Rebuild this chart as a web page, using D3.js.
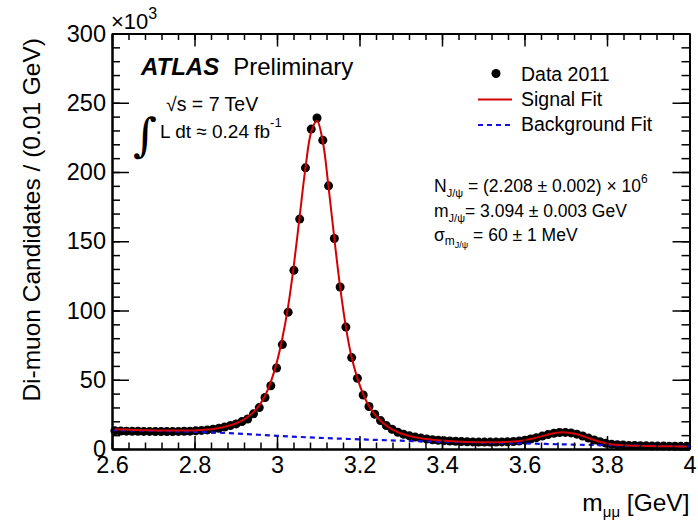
<!DOCTYPE html>
<html>
<head>
<meta charset="utf-8">
<script src="https://cdn.jsdelivr.net/npm/d3@7"></script>
<style>
  body { margin: 0; background: #fff; }
  text { font-family: "Liberation Sans", Arial, Helvetica, sans-serif; fill: #000; }
</style>
</head>
<body>
<div id="chart"></div>
<script>
// binning of the di-muon mass histogram (GeV)
const massLo = 2.6, massHi = 4.0, nBins = 100;
const binWidth = (massHi - massLo) / nBins;
const binCenters = d3.range(nBins).map(i => massLo + (i + 0.5) * binWidth);

// candidates per bin, in units of 10^3
const dataCounts = [
  13.1, 13.0, 12.9, 12.8, 12.8, 12.7, 12.7, 12.6, 12.6, 12.6,
  12.6, 12.7, 12.8, 12.9, 13.1, 13.4, 13.8, 14.3, 14.9, 15.8,
  16.9, 18.1, 19.8, 21.7, 25.4, 29.9, 37.2, 45.7, 58.5, 75.4,
  98.8, 129, 166, 203, 231, 239, 223, 190, 152, 117,
  88, 66, 51, 39, 30.7, 25.1, 20.5, 16.9, 14.3, 12.1,
  10.6, 9.5, 8.6, 7.9, 7.2, 6.7, 6.3, 6.0, 5.8, 5.6,
  5.4, 5.2, 5.1, 5.0, 5.0, 5.0, 5.0, 5.1, 5.2, 5.4,
  5.8, 6.4, 7.2, 8.2, 9.3, 10.4, 11.3, 11.9, 12.0, 11.6,
  10.7, 9.4, 7.9, 6.5, 5.2, 4.2, 3.5, 3.1, 2.8, 2.6,
  2.5, 2.4, 2.3, 2.2, 2.1, 2.1, 2.0, 2.0, 1.9, 1.9
];

// total fit (signal + background) evaluated at the bin centres
const signalFit = [
  14.3, 14.1, 14.0, 13.8, 13.7, 13.6, 13.5, 13.4, 13.3, 13.3,
  13.3, 13.3, 13.3, 13.4, 13.5, 13.7, 14.0, 14.5, 15.2, 16.1,
  17.2, 18.6, 20.5, 23.1, 26.6, 31.5, 38.5, 48.5, 62, 80,
  103, 133, 168, 203, 229, 237, 222, 189, 152, 117,
  88, 66, 51, 39.5, 31, 25, 20.4, 16.9, 14.2, 12.1,
  10.6, 9.4, 8.5, 7.8, 7.2, 6.7, 6.3, 6.0, 5.7, 5.5,
  5.3, 5.1, 5.0, 4.9, 4.9, 4.9, 4.9, 5.0, 5.1, 5.4,
  5.8, 6.4, 7.2, 8.2, 9.3, 10.4, 11.3, 11.9, 12.0, 11.6,
  10.7, 9.4, 7.9, 6.5, 5.2, 4.2, 3.5, 3.0, 2.7, 2.5,
  2.4, 2.3, 2.2, 2.1, 2.0, 2.0, 1.9, 1.9, 1.8, 1.8
];

// background fit
const bgMass = [2.6, 2.7, 2.8, 2.9, 3.0, 3.1, 3.2, 3.3, 3.4, 3.5, 3.6, 3.7, 3.8, 3.9, 4.0];
const bgFit  = [13.6, 13.1, 12.4, 11.2, 9.5, 8.1, 7.0, 6.0, 5.3, 4.6, 4.0, 3.3, 2.7, 2.3, 1.9];

const xMajor = [2.6, 2.8, 3.0, 3.2, 3.4, 3.6, 3.8, 4.0];
const xMinor = d3.range(2.6, 4.0001, 0.04);
const yMajor = [0, 50, 100, 150, 200, 250, 300];
const yMinor = d3.range(0, 300.001, 10);

const width = 698, height = 522;
const plotL = 112, plotR = 689.5, plotT = 33.5, plotB = 449;

const svg = d3.select("#chart").append("svg")
  .attr("width", width)
  .attr("height", height);

const x = d3.scaleLinear().domain([massLo, massHi]).range([plotL, plotR]);
const y = d3.scaleLinear().domain([0, 300]).range([plotB, plotT]);

// ---- data points
svg.append("g")
  .selectAll("circle")
  .data(binCenters)
  .enter().append("circle")
  .attr("cx", d => x(d))
  .attr("cy", (d, i) => y(dataCounts[i]))
  .attr("r", 4.5)
  .attr("fill", "#000");

// ---- fits
svg.append("path")
  .datum(bgMass)
  .attr("fill", "none")
  .attr("stroke", "#1010e0")
  .attr("stroke-width", 2.2)
  .attr("stroke-dasharray", "5,4")
  .attr("d", d3.line().curve(d3.curveMonotoneX)
    .x(d => x(d))
    .y((d, i) => y(bgFit[i])));

svg.append("path")
  .datum(binCenters)
  .attr("fill", "none")
  .attr("stroke", "#d40000")
  .attr("stroke-width", 2)
  .attr("d", d3.line().curve(d3.curveCatmullRom)
    .x(d => x(d))
    .y((d, i) => y(signalFit[i])));

// ---- axes (ROOT style: ticks pointing inward, on all four sides)
const axisFont = "23.5px";

svg.append("g").attr("transform", `translate(0,${plotB})`)
  .call(d3.axisBottom(x).tickValues(xMajor).tickSize(-13).tickSizeOuter(0).tickPadding(7)
    .tickFormat(d => d3.format("")(+d.toFixed(1))));
svg.append("g").attr("transform", `translate(0,${plotB})`)
  .call(d3.axisBottom(x).tickValues(xMinor).tickSize(-6.5).tickSizeOuter(0).tickFormat(""));
svg.append("g").attr("transform", `translate(0,${plotT})`)
  .call(d3.axisTop(x).tickValues(xMajor).tickSize(-13).tickSizeOuter(0).tickFormat(""));
svg.append("g").attr("transform", `translate(0,${plotT})`)
  .call(d3.axisTop(x).tickValues(xMinor).tickSize(-6.5).tickSizeOuter(0).tickFormat(""));

svg.append("g").attr("transform", `translate(${plotL},0)`)
  .call(d3.axisLeft(y).tickValues(yMajor).tickSize(-17).tickSizeOuter(0).tickPadding(6));
svg.append("g").attr("transform", `translate(${plotL},0)`)
  .call(d3.axisLeft(y).tickValues(yMinor).tickSize(-8).tickSizeOuter(0).tickFormat(""));
svg.append("g").attr("transform", `translate(${plotR},0)`)
  .call(d3.axisRight(y).tickValues(yMajor).tickSize(-17).tickSizeOuter(0).tickFormat(""));
svg.append("g").attr("transform", `translate(${plotR},0)`)
  .call(d3.axisRight(y).tickValues(yMinor).tickSize(-8).tickSizeOuter(0).tickFormat(""));

svg.selectAll(".domain").attr("stroke", "#000").attr("stroke-width", 2);
svg.selectAll(".tick line").attr("stroke", "#000").attr("stroke-width", 1.5);
svg.selectAll(".tick text")
  .attr("fill", "#000")
  .style("font-family", "'Liberation Sans', Arial, sans-serif")
  .style("font-size", axisFont);

// x10^3 multiplier
const mult = svg.append("text").attr("x", plotL - 1).attr("y", 29).style("font-size", "22px");
mult.append("tspan").text("×10");
mult.append("tspan").attr("dy", -10).style("font-size", "16px").text("3");

// axis titles
svg.append("text")
  .attr("transform", `translate(40,38) rotate(-90)`)
  .attr("text-anchor", "end")
  .style("font-size", "24.5px")
  .text("Di-muon Candidates / (0.01 GeV)");

const xt = svg.append("text")
  .attr("x", plotR).attr("y", 511)
  .attr("text-anchor", "end")
  .style("font-size", "24.5px");
xt.append("tspan").text("m");
xt.append("tspan").attr("dy", 6).style("font-size", "15px").text("μμ");
xt.append("tspan").attr("dy", -6).text(" [GeV]");

// ---- ATLAS label
const atl = svg.append("text").attr("x", 141).attr("y", 75).style("font-size", "24px");
atl.append("tspan").style("font-weight", "bold").style("font-style", "italic").text("ATLAS");
atl.append("tspan").attr("dx", 14).text("Preliminary");

svg.append("text").attr("x", 166).attr("y", 111).style("font-size", "19.5px").text("√s = 7 TeV");
svg.append("text").attr("x", 133).attr("y", 151)
  .style("font-family", "'DejaVu Serif', serif")
  .style("font-size", "46px")
  .text("∫");
const lumi = svg.append("text").attr("x", 160).attr("y", 138).style("font-size", "19px");
lumi.append("tspan").text("L dt ≈ 0.24 fb");
lumi.append("tspan").attr("dy", -11).style("font-size", "13px").text("-1");

// ---- legend
const legend = svg.append("g").style("font-size", "19.5px");
legend.append("circle").attr("cx", 496).attr("cy", 73.5).attr("r", 4.5).attr("fill", "#000");
legend.append("text").attr("x", 521).attr("y", 81).text("Data 2011");
legend.append("line").attr("x1", 478).attr("x2", 512).attr("y1", 99.5).attr("y2", 99.5)
  .attr("stroke", "#d40000").attr("stroke-width", 2);
legend.append("text").attr("x", 521).attr("y", 106).text("Signal Fit");
legend.append("line").attr("x1", 478).attr("x2", 512).attr("y1", 125).attr("y2", 125)
  .attr("stroke", "#1010e0").attr("stroke-width", 2.2).attr("stroke-dasharray", "5,4");
legend.append("text").attr("x", 521).attr("y", 131).text("Background Fit");

// ---- fit results
const stats = svg.append("g").style("font-size", "17.5px");
const s1 = stats.append("text").attr("x", 434).attr("y", 192);
s1.append("tspan").text("N");
s1.append("tspan").attr("dy", 5).style("font-size", "11px").text("J/ψ");
s1.append("tspan").attr("dy", -5).text(" = (2.208 ± 0.002) × 10");
s1.append("tspan").attr("dy", -9).style("font-size", "12px").text("6");

const s2 = stats.append("text").attr("x", 434).attr("y", 217);
s2.append("tspan").text("m");
s2.append("tspan").attr("dy", 5).style("font-size", "11px").text("J/ψ");
s2.append("tspan").attr("dy", -5).text("= 3.094 ± 0.003 GeV");

const s3 = stats.append("text").attr("x", 434).attr("y", 241);
s3.append("tspan").text("σ");
s3.append("tspan").attr("dy", 4).style("font-size", "12px").text("m");
s3.append("tspan").attr("dy", 3).style("font-size", "9px").text("J/ψ");
s3.append("tspan").attr("dy", -7).text(" = 60 ± 1 MeV");
</script>
</body>
</html>
